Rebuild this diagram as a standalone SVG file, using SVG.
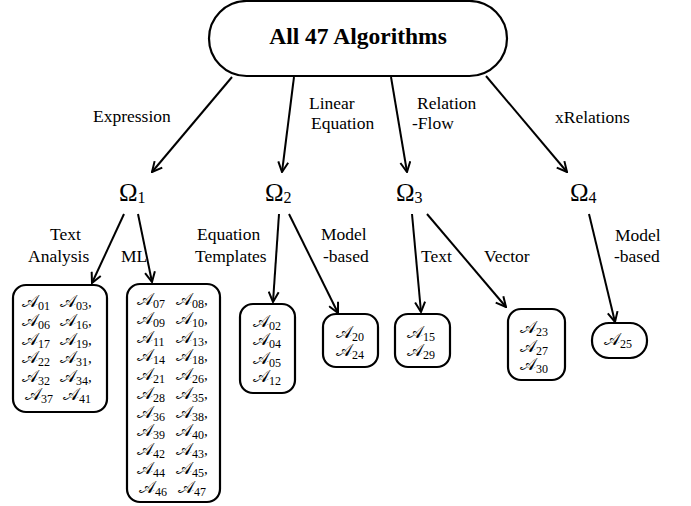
<svg xmlns="http://www.w3.org/2000/svg" width="691" height="506" viewBox="0 0 691 506">
<defs>
<marker id="ah" viewBox="0 0 12 12" refX="11" refY="6" markerWidth="12" markerHeight="12" markerUnits="userSpaceOnUse" orient="auto">
<path d="M1,1 L11,6 L1,11" fill="none" stroke="#000" stroke-width="2"/>
</marker>
<style>
.box{fill:#fff;stroke:#000;stroke-width:2.2}
.lbl{font-family:"Liberation Serif","Times New Roman",serif;font-size:17.5px;fill:#000}
.om{font-family:"Liberation Serif","Times New Roman",serif;font-size:25px;fill:#000}
.a{font-family:"Liberation Serif","DejaVu Serif",serif;font-size:16.5px;fill:#000}
.s{font-family:"Liberation Serif","Times New Roman",serif;font-size:12px}
.c{font-family:"Liberation Serif","Times New Roman",serif;font-size:15px}
.e{fill:none;stroke:#000;stroke-width:2;marker-end:url(#ah)}
</style>
</defs>
<rect width="691" height="506" fill="#fff"/>
<g id="connectors">
<line class="e" x1="232" y1="77" x2="152" y2="172"/>
<line class="e" x1="294" y1="77" x2="282" y2="172"/>
<line class="e" x1="391" y1="77" x2="407" y2="172"/>
<line class="e" x1="486" y1="76" x2="567" y2="172"/>
<line class="e" x1="124" y1="214" x2="92" y2="283"/>
<line class="e" x1="138" y1="214" x2="152" y2="282"/>
<line class="e" x1="279" y1="214" x2="273" y2="302"/>
<line class="e" x1="289" y1="214" x2="338" y2="313"/>
<line class="e" x1="412" y1="214" x2="421" y2="312"/>
<line class="e" x1="427" y1="214" x2="506" y2="307"/>
<line class="e" x1="589" y1="214" x2="615" y2="322"/>
</g>
<g id="edge-labels">
<text class="lbl" x="93" y="122">Expression</text>
<text class="lbl" x="309" y="109">Linear</text>
<text class="lbl" x="311" y="129">Equation</text>
<text class="lbl" x="417" y="109">Relation</text>
<text class="lbl" x="412" y="129">-Flow</text>
<text class="lbl" x="555" y="123">xRelations</text>
<text class="lbl" x="50" y="240">Text</text>
<text class="lbl" x="28" y="262">Analysis</text>
<text class="lbl" x="121" y="262">ML</text>
<text class="lbl" x="197" y="240">Equation</text>
<text class="lbl" x="195" y="262">Templates</text>
<text class="lbl" x="321" y="240">Model</text>
<text class="lbl" x="323" y="262">-based</text>
<text class="lbl" x="421" y="262">Text</text>
<text class="lbl" x="484" y="262">Vector</text>
<text class="lbl" x="615" y="241">Model</text>
<text class="lbl" x="614" y="262">-based</text>
</g>
<g id="root">
<rect class="box" x="209" y="1" width="298" height="75" rx="37.5"/>
<text x="358" y="44" text-anchor="middle" font-family="Liberation Serif, Times New Roman, serif" font-weight="bold" font-size="23.5">All 47 Algorithms</text>
</g>
<g id="omega1"><text class="om" x="119" y="201">Ω<tspan font-size="16" dy="2">1</tspan></text></g>
<g id="omega2"><text class="om" x="265" y="201">Ω<tspan font-size="16" dy="2">2</tspan></text></g>
<g id="omega3"><text class="om" x="396" y="201">Ω<tspan font-size="16" dy="2">3</tspan></text></g>
<g id="omega4"><text class="om" x="570" y="201">Ω<tspan font-size="16" dy="2">4</tspan></text></g>
<g id="box-text-analysis">
<rect class="box" x="13" y="285" width="94" height="127" rx="13"/>
<text class="a" x="22" y="307">𝒜<tspan class="s" dy="3">01</tspan></text><text class="a" x="60" y="307">𝒜<tspan class="s" dy="3">03</tspan><tspan class="c" dy="-3">,</tspan></text>
<text class="a" x="22" y="326">𝒜<tspan class="s" dy="3">06</tspan></text><text class="a" x="60" y="326">𝒜<tspan class="s" dy="3">16</tspan><tspan class="c" dy="-3">,</tspan></text>
<text class="a" x="22" y="345">𝒜<tspan class="s" dy="3">17</tspan></text><text class="a" x="60" y="345">𝒜<tspan class="s" dy="3">19</tspan><tspan class="c" dy="-3">,</tspan></text>
<text class="a" x="22" y="363">𝒜<tspan class="s" dy="3">22</tspan></text><text class="a" x="60" y="363">𝒜<tspan class="s" dy="3">31</tspan><tspan class="c" dy="-3">,</tspan></text>
<text class="a" x="22" y="382">𝒜<tspan class="s" dy="3">32</tspan></text><text class="a" x="60" y="382">𝒜<tspan class="s" dy="3">34</tspan><tspan class="c" dy="-3">,</tspan></text>
<text class="a" x="25" y="400">𝒜<tspan class="s" dy="3">37</tspan></text><text class="a" x="63" y="400">𝒜<tspan class="s" dy="3">41</tspan></text>
</g>
<g id="box-ml">
<rect class="box" x="127" y="284" width="93" height="218" rx="13"/>
<text class="a" x="137" y="305">𝒜<tspan class="s" dy="3">07</tspan></text><text class="a" x="176" y="305">𝒜<tspan class="s" dy="3">08</tspan><tspan class="c" dy="-3">,</tspan></text>
<text class="a" x="137" y="324">𝒜<tspan class="s" dy="3">09</tspan></text><text class="a" x="176" y="324">𝒜<tspan class="s" dy="3">10</tspan><tspan class="c" dy="-3">,</tspan></text>
<text class="a" x="137" y="343">𝒜<tspan class="s" dy="3">11</tspan></text><text class="a" x="176" y="343">𝒜<tspan class="s" dy="3">13</tspan><tspan class="c" dy="-3">,</tspan></text>
<text class="a" x="137" y="361">𝒜<tspan class="s" dy="3">14</tspan></text><text class="a" x="176" y="361">𝒜<tspan class="s" dy="3">18</tspan><tspan class="c" dy="-3">,</tspan></text>
<text class="a" x="137" y="380">𝒜<tspan class="s" dy="3">21</tspan></text><text class="a" x="176" y="380">𝒜<tspan class="s" dy="3">26</tspan><tspan class="c" dy="-3">,</tspan></text>
<text class="a" x="137" y="399">𝒜<tspan class="s" dy="3">28</tspan></text><text class="a" x="176" y="399">𝒜<tspan class="s" dy="3">35</tspan><tspan class="c" dy="-3">,</tspan></text>
<text class="a" x="137" y="418">𝒜<tspan class="s" dy="3">36</tspan></text><text class="a" x="176" y="418">𝒜<tspan class="s" dy="3">38</tspan><tspan class="c" dy="-3">,</tspan></text>
<text class="a" x="137" y="436">𝒜<tspan class="s" dy="3">39</tspan></text><text class="a" x="176" y="436">𝒜<tspan class="s" dy="3">40</tspan><tspan class="c" dy="-3">,</tspan></text>
<text class="a" x="137" y="455">𝒜<tspan class="s" dy="3">42</tspan></text><text class="a" x="176" y="455">𝒜<tspan class="s" dy="3">43</tspan><tspan class="c" dy="-3">,</tspan></text>
<text class="a" x="137" y="474">𝒜<tspan class="s" dy="3">44</tspan></text><text class="a" x="176" y="474">𝒜<tspan class="s" dy="3">45</tspan><tspan class="c" dy="-3">,</tspan></text>
<text class="a" x="139" y="493">𝒜<tspan class="s" dy="3">46</tspan></text><text class="a" x="178" y="493">𝒜<tspan class="s" dy="3">47</tspan></text>
</g>
<g id="box-equation-templates">
<rect class="box" x="240" y="304" width="55" height="89" rx="13"/>
<text class="a" x="253" y="327">𝒜<tspan class="s" dy="3">02</tspan></text>
<text class="a" x="253" y="345">𝒜<tspan class="s" dy="3">04</tspan></text>
<text class="a" x="253" y="364">𝒜<tspan class="s" dy="3">05</tspan></text>
<text class="a" x="253" y="382">𝒜<tspan class="s" dy="3">12</tspan></text>
</g>
<g id="box-omega2-model">
<rect class="box" x="323" y="314" width="55" height="53" rx="13"/>
<text class="a" x="336" y="338">𝒜<tspan class="s" dy="3">20</tspan></text>
<text class="a" x="336" y="356">𝒜<tspan class="s" dy="3">24</tspan></text>
</g>
<g id="box-omega3-text">
<rect class="box" x="395" y="314" width="55" height="53" rx="13"/>
<text class="a" x="407" y="338">𝒜<tspan class="s" dy="3">15</tspan></text>
<text class="a" x="407" y="356">𝒜<tspan class="s" dy="3">29</tspan></text>
</g>
<g id="box-omega3-vector">
<rect class="box" x="508" y="309" width="57" height="71" rx="13"/>
<text class="a" x="520" y="333">𝒜<tspan class="s" dy="3">23</tspan></text>
<text class="a" x="520" y="352">𝒜<tspan class="s" dy="3">27</tspan></text>
<text class="a" x="520" y="370">𝒜<tspan class="s" dy="3">30</tspan></text>
</g>
<g id="box-omega4-model">
<rect class="box" x="592" y="323" width="55" height="35" rx="17"/>
<text class="a" x="604" y="345">𝒜<tspan class="s" dy="3">25</tspan></text>
</g>
</svg>
